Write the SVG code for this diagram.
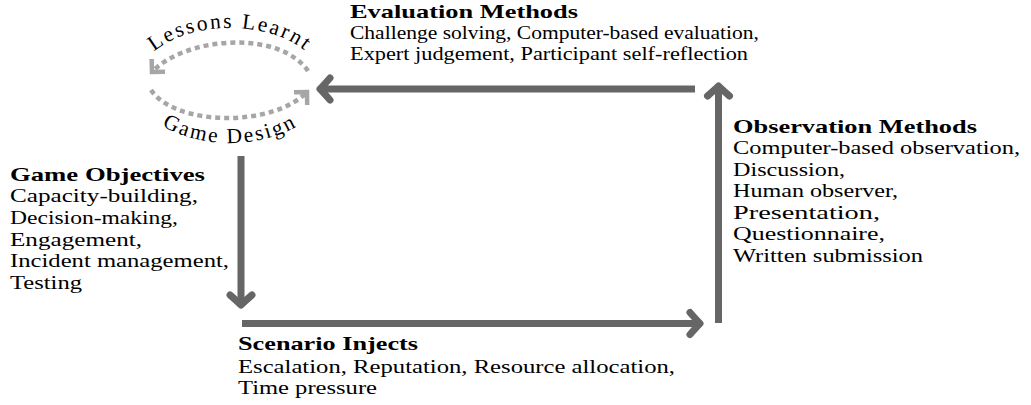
<svg xmlns="http://www.w3.org/2000/svg" width="1031" height="405" viewBox="0 0 1031 405">
<style>
text{font-family:"Liberation Serif","Times New Roman",serif;font-size:19px;fill:#000}
.t{font-weight:bold}
.main{fill:none;stroke:#666;stroke-width:7}
.dot{fill:none;stroke:#a6a6a6;stroke-width:4.5;stroke-dasharray:5 4}
.arc{font-size:21.5px;letter-spacing:2.2px}
</style>
<defs>
<marker id="head" markerUnits="userSpaceOnUse" orient="auto" overflow="visible" markerWidth="1" markerHeight="1">
<path d="M -10 -11 Q -3 -3 0 0 Q -3 3 -10 11" fill="none" stroke="#666" stroke-width="7" stroke-linecap="round" stroke-linejoin="round"/>
</marker>
<marker id="dhead" markerUnits="userSpaceOnUse" orient="auto" overflow="visible" markerWidth="1" markerHeight="1">
<path d="M -9.2 -9.2 L 0 0 L -9.2 9.2" fill="none" stroke="#a6a6a6" stroke-width="4.5"/>
</marker>
<path id="lp" d="M 138 82 A 92 54 0 0 1 322 82"/>
<path id="gp" d="M 132 81 A 98 62 0 0 0 328 81"/>
</defs>
<g id="connectors">
<path class="main" d="M 241 156 L 241 305" marker-end="url(#head)"/>
<path class="main" d="M 242 323.5 L 700 323.5" marker-end="url(#head)"/>
<path class="main" d="M 718.5 323 L 718.5 86" marker-end="url(#head)"/>
<path class="main" d="M 695 89 L 320 89" marker-end="url(#head)"/>
<path class="dot" d="M 308 71 C 280 30, 186 36, 152 72" marker-end="url(#dhead)"/>
<path class="dot" d="M 151 90 C 175 126, 272 128, 307 92" marker-end="url(#dhead)"/>
<text class="arc"><textPath href="#lp" startOffset="50%" text-anchor="middle">Lessons Learnt</textPath></text>
<text class="arc"><textPath href="#gp" startOffset="50%" text-anchor="middle">Game Design</textPath></text>
</g>
<g id="evaluation">
<text class="t" x="350" y="17.5" textLength="228" lengthAdjust="spacingAndGlyphs">Evaluation Methods</text>
<text x="350" y="38.5" textLength="409" lengthAdjust="spacingAndGlyphs">Challenge solving, Computer-based evaluation,</text>
<text x="350" y="59.5" textLength="398" lengthAdjust="spacingAndGlyphs">Expert judgement, Participant self-reflection</text>
</g>
<g id="objectives">
<text class="t" x="10" y="180.5" textLength="195" lengthAdjust="spacingAndGlyphs">Game Objectives</text>
<text x="10" y="202" textLength="188" lengthAdjust="spacingAndGlyphs">Capacity-building,</text>
<text x="10" y="223.5" textLength="168" lengthAdjust="spacingAndGlyphs">Decision-making,</text>
<text x="10" y="245.5" textLength="132" lengthAdjust="spacingAndGlyphs">Engagement,</text>
<text x="10" y="267" textLength="219" lengthAdjust="spacingAndGlyphs">Incident management,</text>
<text x="10" y="289" textLength="72" lengthAdjust="spacingAndGlyphs">Testing</text>
</g>
<g id="scenario">
<text class="t" x="238" y="350" textLength="180" lengthAdjust="spacingAndGlyphs">Scenario Injects</text>
<text x="238" y="372.5" textLength="437" lengthAdjust="spacingAndGlyphs">Escalation, Reputation, Resource allocation,</text>
<text x="238" y="394" textLength="139" lengthAdjust="spacingAndGlyphs">Time pressure</text>
</g>
<g id="observation">
<text class="t" x="733" y="132.7" textLength="244" lengthAdjust="spacingAndGlyphs">Observation Methods</text>
<text x="733" y="154.3" textLength="287" lengthAdjust="spacingAndGlyphs">Computer-based observation,</text>
<text x="733" y="175.5" textLength="112" lengthAdjust="spacingAndGlyphs">Discussion,</text>
<text x="733" y="197" textLength="165" lengthAdjust="spacingAndGlyphs">Human observer,</text>
<text x="733" y="218.5" textLength="147" lengthAdjust="spacingAndGlyphs">Presentation,</text>
<text x="733" y="240" textLength="152" lengthAdjust="spacingAndGlyphs">Questionnaire,</text>
<text x="733" y="261.7" textLength="190" lengthAdjust="spacingAndGlyphs">Written submission</text>
</g>
</svg>
